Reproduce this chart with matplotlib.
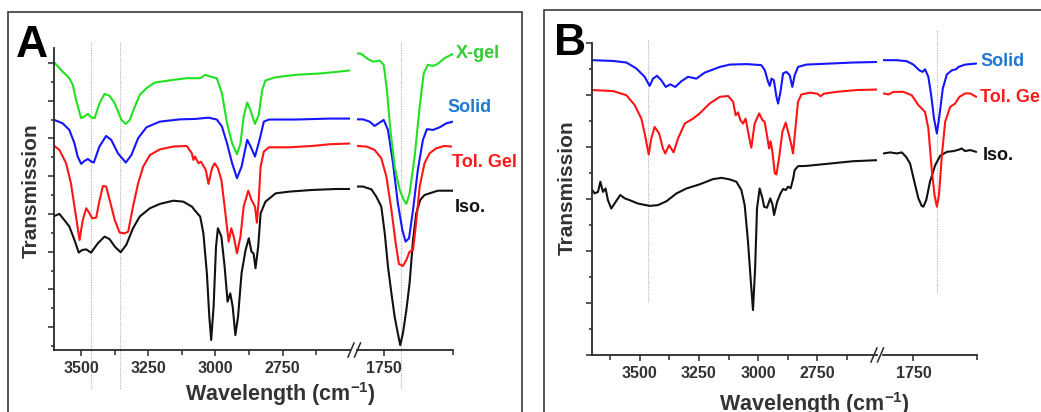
import matplotlib
matplotlib.use("Agg")
import matplotlib.pyplot as plt
from matplotlib.patches import Rectangle
from matplotlib.lines import Line2D

plt.rcParams['font.family'] = ['Liberation Sans', 'DejaVu Sans']
plt.rcParams['font.weight'] = 'bold'
plt.rcParams['mathtext.fontset'] = 'custom'
plt.rcParams['mathtext.rm'] = 'Liberation Sans:bold'
plt.rcParams['mathtext.bf'] = 'Liberation Sans:bold'
plt.rcParams['mathtext.default'] = 'regular'

# ---------------- data (wavenumber, transmission in arbitrary offset units) ----------------
# Panel A
A_xgel_high = [(3600,15.02),(3569,14.54),(3544,14.19),(3531,13.83),(3519,13.04),(3500,12.07),(3488,12.16),
               (3475,12.30),(3463,12.12),(3450,12.07),(3432,12.86),(3413,13.36),(3394,13.25),(3375,12.86),
               (3350,11.98),(3334,11.77),(3319,11.98),(3300,12.69),(3282,13.30),(3257,13.66),(3226,13.96),
               (3157,14.10),(3107,14.19),(3057,14.19),(3038,14.37),(3020,14.28),(2995,14.19),(2976,13.39),
               (2957,11.80),(2938,10.74),(2920,10.16),(2907,10.74),(2895,12.16),(2882,12.90),(2870,12.51),
               (2853,11.77),(2839,12.24),(2826,13.57),(2814,14.07),(2776,14.24),(2701,14.37),(2601,14.45),
               (2500,14.60)]
A_xgel_low = [(1850,15.51),(1835,15.48),(1810,15.20),(1791,15.07),(1766,15.12),(1751,14.90),(1739,13.57),
              (1726,11.45),(1710,9.51),(1691,8.27),(1676,7.74),(1666,7.53),(1654,8.09),(1635,10.04),
              (1616,12.69),(1601,14.45),(1585,14.90),(1566,14.84),(1548,14.95),(1523,15.25),(1491,15.48)]

A_solid_high = [(3600,11.98),(3569,11.80),(3544,11.45),(3525,10.74),(3513,10.04),(3500,9.65),(3488,9.80),
                (3475,9.91),(3463,9.78),(3453,9.72),(3432,10.57),(3407,11.13),(3388,10.92),(3363,10.21),
                (3334,9.72),(3313,10.12),(3288,11.01),(3257,11.59),(3207,11.89),(3132,12.01),(3076,12.03),
                (3026,12.10),(2995,12.00),(2976,11.63),(2957,10.74),(2938,9.68),(2920,8.89),(2903,9.50),
                (2882,10.92),(2870,10.60),(2853,10.04),(2836,10.92),(2820,11.89),(2801,12.00),(2701,12.00),
                (2576,12.05),(2500,12.05)]
A_solid_low = [(1850,12.01),(1829,12.01),(1804,11.89),(1785,11.66),(1766,11.84),(1751,11.98),(1735,11.45),
               (1716,9.68),(1698,7.56),(1681,6.15),(1669,5.53),(1656,5.71),(1641,7.21),(1623,9.33),
               (1604,10.92),(1589,11.49),(1566,11.45),(1541,11.59),(1516,11.80),(1491,11.89)]

A_tol_high = [(3600,10.60),(3581,10.39),(3556,9.68),(3538,8.62),(3521,7.03),(3506,5.62),(3494,6.68),
              (3481,7.30),(3469,7.03),(3459,6.77),(3444,6.80),(3434,7.56),(3419,8.48),(3407,8.45),
              (3394,7.74),(3375,6.68),(3357,6.01),(3338,5.97),(3325,6.06),(3307,7.39),(3288,8.62),
              (3269,9.51),(3244,10.12),(3207,10.42),(3157,10.57),(3107,10.60),(3088,10.21),(3082,9.86),
              (3076,10.04),(3063,9.68),(3054,9.77),(3045,9.54),(3036,9.33),(3026,8.59),(3013,9.42),
              (3003,9.68),(2991,9.42),(2978,8.80),(2966,7.39),(2951,5.53),(2941,6.24),(2932,5.80),
              (2920,4.91),(2907,5.80),(2895,7.39),(2878,8.23),(2866,7.74),(2853,7.39),(2846,6.54),
              (2839,7.74),(2832,9.51),(2820,10.30),(2801,10.53),(2726,10.53),(2639,10.60),(2576,10.69),
              (2500,10.73)]
A_tol_low = [(1850,10.60),(1816,10.57),(1785,10.39),(1760,9.95),(1741,8.98),(1722,7.21),(1706,5.44),
             (1694,4.35),(1679,4.24),(1666,4.56),(1654,5.00),(1641,5.09),(1631,6.33),(1616,8.45),
             (1598,9.68),(1579,10.21),(1554,10.48),(1523,10.60),(1498,10.57)]

A_iso_high = [(3600,6.89),(3581,7.00),(3563,6.68),(3544,6.33),(3525,5.62),(3509,4.95),(3496,5.09),
              (3481,5.12),(3463,4.95),(3438,5.44),(3413,5.80),(3394,5.66),(3375,5.27),(3353,4.97),
              (3332,5.36),(3307,6.24),(3282,6.86),(3244,7.30),(3207,7.53),(3157,7.70),(3120,7.65),
              (3088,7.39),(3076,7.17),(3057,6.86),(3045,5.97),(3032,3.85),(3023,1.56),(3016,0.32),
              (3007,2.09),(2998,5.27),(2991,6.24),(2978,5.80),(2966,4.21),(2955,2.35),(2945,2.79),
              (2936,2.09),(2926,0.58),(2916,1.56),(2903,3.85),(2888,5.09),(2876,5.71),(2866,5.00),
              (2858,4.90),(2851,4.12),(2841,5.27),(2832,7.03),(2814,7.65),(2776,8.09),(2726,8.18),
              (2639,8.27),(2551,8.32),(2500,8.32)]
A_iso_low = [(1850,8.45),(1829,8.45),(1797,8.30),(1779,7.92),(1760,7.39),(1747,5.97),(1735,4.21),
             (1722,2.79),(1710,1.56),(1698,0.67),(1689,0.05),(1679,0.67),(1666,1.91),(1654,3.32),
             (1641,5.62),(1629,7.03),(1614,7.74),(1598,8.00),(1579,8.09),(1548,8.23),(1516,8.23),
             (1491,8.23)]

# Panel B
B_solid_high = [(3700,11.35),(3612,11.32),(3556,11.26),(3514,11.03),(3479,10.71),(3458,10.36),(3444,10.64),
                (3427,10.75),(3409,10.58),(3390,10.32),(3371,10.42),(3350,10.32),(3324,10.54),(3296,10.71),
                (3261,10.64),(3226,10.87),(3162,11.09),(3120,11.18),(3050,11.20),(2987,11.16),(2972,10.96),
                (2958,10.51),(2951,10.36),(2944,10.64),(2934,10.58),(2923,9.94),(2916,9.68),(2906,10.13),
                (2895,10.84),(2881,10.90),(2867,10.77),(2856,10.32),(2846,10.77),(2832,11.09),(2797,11.18),
                (2698,11.22),(2600,11.26),(2500,11.28)]
B_solid_low = [(1876,11.35),(1820,11.35),(1778,11.31),(1750,11.18),(1725,10.96),(1711,10.90),(1701,11.00),
               (1687,10.71),(1675,10.00),(1663,9.10),(1651,8.53),(1640,9.23),(1626,10.26),(1609,10.80),
               (1588,10.96),(1570,11.00),(1560,11.09),(1532,11.18),(1485,11.22)]

B_tol_high = [(3700,10.20),(3612,10.16),(3556,10.00),(3521,9.62),(3493,9.10),(3479,8.53),(3462,7.72),
              (3451,8.34),(3437,8.78),(3418,8.53),(3402,7.95),(3392,7.76),(3376,8.08),(3357,7.80),
              (3338,8.34),(3310,8.91),(3275,9.10),(3247,9.30),(3205,9.68),(3162,9.94),(3127,9.97),
              (3106,9.75),(3095,9.23),(3085,9.34),(3075,9.04),(3064,8.91),(3053,9.10),(3040,8.46),
              (3029,7.98),(3015,8.91),(2996,9.30),(2982,9.04),(2973,8.98),(2963,8.46),(2954,7.95),
              (2948,8.23),(2940,7.82),(2930,6.99),(2923,6.95),(2912,7.57),(2898,8.59),(2884,8.95),
              (2870,8.46),(2860,8.08),(2853,7.76),(2843,8.72),(2832,9.75),(2818,10.03),(2782,10.10),
              (2750,10.06),(2737,9.96),(2723,10.06),(2670,10.13),(2585,10.20),(2500,10.22)]
B_tol_low = [(1876,10.07),(1855,10.03),(1834,10.13),(1792,10.13),(1757,10.00),(1729,9.62),(1701,9.36),
             (1687,8.72),(1673,7.18),(1661,6.16),(1651,5.71),(1642,6.16),(1630,7.69),(1616,8.98),
             (1595,9.55),(1574,9.68),(1556,9.94),(1532,10.07),(1511,10.07),(1485,9.94)]

B_iso_high = [(3700,6.35),(3690,6.22),(3676,6.28),(3666,6.67),(3655,6.28),(3644,6.41),(3634,5.96),
              (3620,5.64),(3601,5.90),(3582,6.16),(3563,6.03),(3542,5.96),(3507,5.83),(3458,5.74),
              (3423,5.77),(3387,5.92),(3345,6.22),(3303,6.41),(3247,6.57),(3191,6.77),(3155,6.82),
              (3120,6.76),(3092,6.67),(3071,6.35),(3057,5.77),(3043,4.36),(3031,2.82),(3022,1.73),
              (3013,3.34),(3005,5.64),(2994,6.41),(2982,6.03),(2975,5.71),(2963,5.67),(2949,6.03),
              (2940,5.80),(2933,5.39),(2920,5.90),(2906,6.22),(2895,6.39),(2884,6.35),(2874,6.48),
              (2863,6.42),(2853,6.77),(2846,7.12),(2832,7.27),(2797,7.28),(2698,7.37),(2600,7.46),
              (2500,7.50)]
B_iso_low = [(1876,7.76),(1848,7.80),(1820,7.76),(1799,7.80),(1781,7.63),(1764,7.37),(1746,6.67),
             (1729,6.03),(1715,5.74),(1708,5.71),(1696,5.96),(1680,6.67),(1658,7.31),(1637,7.67),
             (1609,7.82),(1581,7.85),(1560,7.90),(1546,7.95),(1532,7.85),(1511,7.89),(1485,7.82)]

A_series = [("X-gel", A_xgel_high, A_xgel_low, '#22e022', '#33cc33'),
            ("Solid", A_solid_high, A_solid_low, '#1515ff', '#1f78d1'),
            ("Tol. Gel", A_tol_high, A_tol_low, '#ff1515', '#ff1a1a'),
            ("Iso.", A_iso_high, A_iso_low, '#111111', '#111111')]
B_series = [("Solid", B_solid_high, B_solid_low, '#1515ff', '#1f78d1'),
            ("Tol. Gel", B_tol_high, B_tol_low, '#ff1515', '#ff1a1a'),
            ("Iso.", B_iso_high, B_iso_low, '#111111', '#111111')]

A_major_x = [3500, 3250, 3000, 2750]
A_minor_x = [3375, 3125, 2875, 2625]
B_major_x = [3500, 3250, 3000, 2750]
B_minor_x = [3625, 3375, 3125, 2875, 2625]
low_major_x = [1750]
A_ref_high = [3465, 3355]
A_ref_low = [1685]
B_ref_high = [3467]
B_ref_low = [1651]

# ---------------- layout helpers (pixel geometry) ----------------
W, H = 1041, 412
fig = plt.figure(figsize=(W / 100, H / 100), dpi=100)
fig.patch.set_facecolor('white')

def fx(px):
    return px / W

def fy(py):
    return 1 - py / H

def make_ax(x0, x1, ytop, ybot):
    return fig.add_axes([fx(x0), fy(ybot), (x1 - x0) / W, (ybot - ytop) / H])

AX_COL = '#2a2a2a'
TXT_COL = '#333333'

def style(ax, xlim, ylim, major, minor, left):
    ax.set_xlim(*xlim)
    ax.set_ylim(*ylim)
    ax.patch.set_alpha(0)
    for s in ['top', 'right']:
        ax.spines[s].set_visible(False)
    ax.spines['bottom'].set_linewidth(1.3)
    ax.spines['bottom'].set_color(AX_COL)
    ax.spines['left'].set_linewidth(1.3)
    ax.spines['left'].set_color(AX_COL)
    ax.set_xticks(major)
    ax.set_xticklabels([str(v) for v in major])
    ax.set_xticks(minor, minor=True)
    ax.tick_params(axis='x', which='major', length=4, width=1.1, color=AX_COL,
                   labelsize=11.5, labelcolor=TXT_COL, pad=4)
    ax.tick_params(axis='x', which='minor', length=3.5, width=1.1, color=AX_COL)
    if not left:
        ax.spines['left'].set_visible(False)
        ax.set_yticks([])

def set_yticks(ax, majors, minors):
    ax.set_yticks(majors)
    ax.set_yticklabels([])
    ax.set_yticks(minors, minor=True)
    ax.tick_params(axis='y', which='major', length=4.5, width=1.1, color=AX_COL)
    ax.tick_params(axis='y', which='minor', length=2.5, width=1.1, color=AX_COL)

def draw(ax, pts, color):
    ax.plot([p[0] for p in pts], [p[1] for p in pts], color=color, lw=1.5,
            solid_joinstyle='round', solid_capstyle='round')

def breakmarks(x0, yaxis):
    for dx in (0, 6.5):
        fig.add_artist(Line2D([fx(x0 + dx), fx(x0 + dx + 6)], [fy(yaxis + 7), fy(yaxis - 7)],
                              color=AX_COL, lw=1.1))

def refline(ax, x, ytop_px, ybot_px, ylim, top_px, bot_px):
    scale = (ylim[1] - ylim[0]) / (bot_px - top_px)
    y0 = ylim[0] + (bot_px - ybot_px) * scale
    y1 = ylim[0] + (bot_px - ytop_px) * scale
    ax.plot([x, x], [y0, y1], color='#b0b0b0', lw=0.8, ls=(0, (1, 1.2)), clip_on=False, zorder=0)

# ---------------- frames ----------------
fig.add_artist(Rectangle((fx(8.3), fy(430)), (521.7 - 8.3) / W, (430 - 11.7) / H,
                         fill=False, ec='#3a3a3a', lw=1.2, transform=fig.transFigure))
fig.add_artist(Rectangle((fx(544.3), fy(430)), (1060 - 544.3) / W, (430 - 10) / H,
                         fill=False, ec='#3a3a3a', lw=1.2, transform=fig.transFigure))

# ---------------- Panel A ----------------
A_top, A_bot = 48, 350
A_ylim = (-0.21, 15.79)
axA1 = make_ax(54.3, 349.8, A_top, A_bot)
axA2 = make_ax(357.3, 453.3, A_top, A_bot)
style(axA1, (3600, 2500), A_ylim, A_major_x, A_minor_x, True)
style(axA2, (1850, 1490), A_ylim, low_major_x, [1490], False)
set_yticks(axA1, list(range(1, 16, 2)), list(range(0, 16, 2)))
for x in A_ref_high:
    refline(axA1, x, 42, 388, A_ylim, A_top, A_bot)
for x in A_ref_low:
    refline(axA2, x, 42, 388, A_ylim, A_top, A_bot)
for name, hi, lo, col, tcol in A_series[::-1]:
    draw(axA1, hi, col)
    draw(axA2, lo, col)
breakmarks(348, A_bot)

A_label_pos = [(456, 53), (447, 107), (452, 162), (455, 208)]
for (name, hi, lo, col, tcol), (px, py) in zip(A_series, A_label_pos):
    fig.text(fx(px), fy(py), name, color=tcol, fontsize=13, fontweight='bold', ha='left', va='center')

fig.text(fx(16), fy(57), "A", fontsize=32, fontweight='bold', color='black', ha='left', va='baseline')
fig.text(fx(36.7), fy(191), "Transmission", fontsize=15, fontweight='bold', color=TXT_COL,
         rotation=90, ha='center', va='baseline', rotation_mode='anchor')
fig.text(fx(280), fy(401), "Wavelength (cm$^{-1}$)", fontsize=15.5, fontweight='bold', color=TXT_COL,
         ha='center', va='baseline')

# ---------------- Panel B ----------------
B_top, B_bot = 43.3, 355
B_ylim = (0, 12)
axB1 = make_ax(592.3, 876.7, B_top, B_bot)
axB2 = make_ax(883.3, 976.7, B_top, B_bot)
style(axB1, (3700, 2500), B_ylim, B_major_x, B_minor_x, True)
style(axB2, (1877, 1483), B_ylim, low_major_x, [1483], False)
set_yticks(axB1, list(range(0, 13, 2)), list(range(1, 13, 2)))
for x in B_ref_high:
    refline(axB1, x, 38, 302, B_ylim, B_top, B_bot)
for x in B_ref_low:
    refline(axB2, x, 29, 293, B_ylim, B_top, B_bot)
for name, hi, lo, col, tcol in B_series[::-1]:
    draw(axB1, hi, col)
    draw(axB2, lo, col)
breakmarks(871, B_bot)

B_label_pos = [(980, 61), (980, 97), (983, 155)]
for (name, hi, lo, col, tcol), (px, py) in zip(B_series, B_label_pos):
    fig.text(fx(px), fy(py), name, color=tcol, fontsize=13, fontweight='bold', ha='left', va='center')

fig.text(fx(554), fy(55), "B", fontsize=32, fontweight='bold', color='black', ha='left', va='baseline')
fig.text(fx(573), fy(188), "Transmission", fontsize=15, fontweight='bold', color=TXT_COL,
         rotation=90, ha='center', va='baseline', rotation_mode='anchor')
fig.text(fx(814), fy(410.5), "Wavelength (cm$^{-1}$)", fontsize=15.5, fontweight='bold', color=TXT_COL,
         ha='center', va='baseline')

fig.savefig("out.png", dpi=100)
